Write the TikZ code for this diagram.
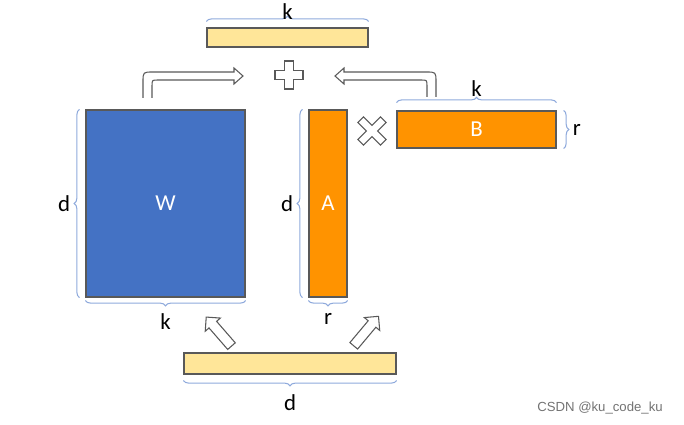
\documentclass[tikz,border=0pt]{standalone}
\usepackage{fontspec}
\setmainfont{Carlito}
\newfontfamily\markfont{Liberation Sans}
\usetikzlibrary{fit, shapes.arrows, decorations.pathreplacing}

\definecolor{wblue}{HTML}{4472C4}
\definecolor{aborange}{HTML}{FF9300}
\definecolor{xyellow}{HTML}{FFE699}
\definecolor{bracecol}{HTML}{8FAADC}
\definecolor{edgegray}{HTML}{595959}

\begin{document}
\begin{tikzpicture}[x=0.02cm, y=-0.02cm,
    matbox/.style={draw=edgegray, line width=0.6pt, inner sep=0pt},
    matlabel/.style={text=white, inner sep=0pt, font=\fontsize{13}{15}\selectfont},
    dimbrace/.style={decorate, decoration={brace, amplitude=3pt}, draw=bracecol, line width=0.6pt},
    dimlabel/.style={font=\fontsize{13}{15}\selectfont, inner sep=1pt},
    blockarrow/.style={single arrow, draw=edgegray, fill=white, line width=0.6pt, inner sep=0.09cm,
        minimum height=0.77cm, single arrow head extend=0.1cm, single arrow tip angle=90},
    hollow/.style={draw=edgegray, line width=0.6pt, fill=white}]
    \useasboundingbox (0,0) rectangle (684,425);

    % input x (top) and x (bottom)
    \node[matbox, fill=xyellow, fit={(207,28) (368,47)}] (htop) {};
    \node[matbox, fill=xyellow, fit={(184,353) (396,374)}] (xbot) {};

    % weight matrices
    \node[matbox, fill=wblue, fit={(86,110) (245,297)}] (W) {};
    \node[matbox, fill=aborange, fit={(309,110) (347,297)}] (A) {};
    \node[matbox, fill=aborange, fit={(397,111) (556,148)}] (B) {};
    \node[matlabel] (Wtext) at (W.center) {W};
    \node[matlabel] (Atext) at (A.center) {A};
    \node[matlabel] (Btext) at (B.center) {B};

    % dimension braces
    \draw[dimbrace] ([yshift=3.4pt] htop.north west) -- ([yshift=3.4pt] htop.north east) node[midway, above=0pt, dimlabel] (ktop) {k};
    \draw[dimbrace] ([xshift=-3.4pt] W.south west) -- ([xshift=-3.4pt] W.north west) node[midway, left=4pt, dimlabel] (dW) {d};
    \draw[dimbrace] ([yshift=-1.7pt] W.south east) -- ([yshift=-1.7pt] W.south west) node[midway, below=6pt, dimlabel] (kW) {k};
    \draw[dimbrace] ([xshift=-3.4pt] A.south west) -- ([xshift=-3.4pt] A.north west) node[midway, left=4pt, dimlabel] (dA) {d};
    \draw[dimbrace] ([yshift=-1.7pt] A.south east) -- ([yshift=-1.7pt] A.south west) node[midway, below=6pt, dimlabel] (rA) {r};
    \draw[dimbrace] ([yshift=4.5pt] B.north west) -- ([yshift=4.5pt] B.north east) node[midway, above=2pt, dimlabel] (kB) {k};
    \draw[dimbrace] ([xshift=4pt] B.north east) -- ([xshift=4pt] B.south east) node[midway, right=4pt, dimlabel] (rB) {r};
    \draw[dimbrace] ([yshift=-3.4pt] xbot.south east) -- ([yshift=-3.4pt] xbot.south west) node[midway, below=7pt, dimlabel] (dbot) {d};

    % plus and times signs
    \begin{scope}[shift={(289,75)}]
        \draw[hollow] (-4.5,-14) -- (4.5,-14) -- (4.5,-4.5) -- (14,-4.5) -- (14,4.5) -- (4.5,4.5)
            -- (4.5,14) -- (-4.5,14) -- (-4.5,4.5) -- (-14,4.5) -- (-14,-4.5) -- (-4.5,-4.5) -- cycle;
    \end{scope}
    \begin{scope}[shift={(372,131)}, rotate=45]
        \draw[hollow] (-4,-16) -- (4,-16) -- (4,-4) -- (16,-4) -- (16,4) -- (4,4)
            -- (4,16) -- (-4,16) -- (-4,4) -- (-16,4) -- (-16,-4) -- (-4,-4) -- cycle;
    \end{scope}

    % bent arrows into the sum
    \draw[hollow] (143,98) -- (143,82) .. controls (143,72) .. (153,72) -- (234,72) -- (234,68)
        -- (243,76) -- (234,84) -- (234,80) -- (158,80) .. controls (152,80) .. (152,86) -- (152,98);
    \draw[hollow] (436,97) -- (436,82) .. controls (436,72) .. (426,72) -- (344,72) -- (344,68)
        -- (335,76) -- (344,84) -- (344,80) -- (421,80) .. controls (427,80) .. (427,86) -- (427,97);

    % arrows from x up to W and A
    \node[blockarrow, rotate=131] (toW) at (220.5,333.5) {};
    \node[blockarrow, rotate=50] (toA) at (364.5,333) {};

    % watermark
    \node[font=\markfont\fontsize{7.5}{9}\selectfont, text=black!55] (mark) at (600,408) {CSDN @ku\_code\_ku};
\end{tikzpicture}
\end{document}
